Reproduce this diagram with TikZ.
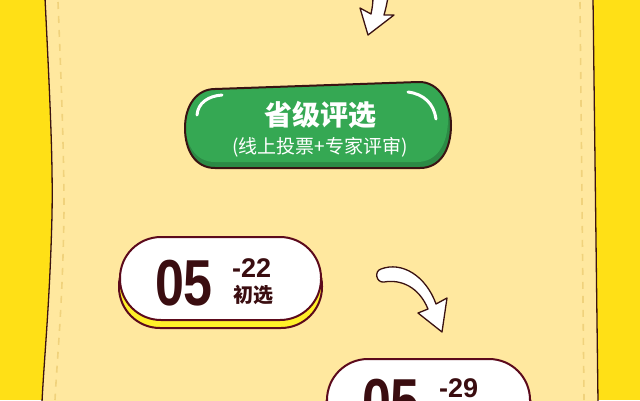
\documentclass[tikz,border=0pt]{standalone}
\usepackage{fontspec}
\usepackage{graphicx}
\setmainfont{Liberation Sans}
\newfontfamily\cjk{Noto Sans CJK SC}
\definecolor{bgyellow}{HTML}{FFE016}
\definecolor{paper}{HTML}{FFE89F}
\definecolor{dashcol}{HTML}{F0D27C}
\definecolor{ink}{HTML}{3A1212}
\definecolor{maroon}{HTML}{5C0A1C}
\definecolor{green1}{HTML}{35A853}
\definecolor{green2}{HTML}{2C8A45}
\definecolor{shadowyel}{HTML}{FFF02A}
\definecolor{datetext}{HTML}{3A0D10}
\tikzset{
  edgeline/.style={draw=ink, line width=1.3pt},
  stitch/.style={draw=dashcol, line width=1.6pt, dash pattern=on 7pt off 7pt},
  datebox/.style={fill=white, draw=maroon, line width=2pt, rounded corners=41pt},
  dateshadow/.style={fill=shadowyel, draw=maroon, line width=2pt, rounded corners=41pt},
  bignum/.style={text=datetext, font=\fontsize{65}{65}\selectfont\bfseries, inner sep=0pt, anchor=base},
  smallnum/.style={text=datetext, font=\fontsize{27}{27}\selectfont\bfseries, inner sep=0pt, anchor=base west},
  smalllabel/.style={text=datetext, font=\cjk\fontsize{20}{20}\selectfont\bfseries, inner sep=0pt, anchor=base west},
  arrowshape/.style={fill=white, draw=ink, line width=1.3pt, line join=round},
  highlight/.style={draw=white, line width=3pt, line cap=round}
}
\begin{document}
\begin{tikzpicture}[x=1pt,y=-1pt]
\useasboundingbox (0,0) rectangle (640,400);
\fill[bgyellow] (0,0) rectangle (640,400);
% paper
\fill[paper] (45,-2) .. controls (50,100) and (53,160) .. (52,215) .. controls (50,300) and (44,360) .. (42,402) -- (598,402) -- (593,-2) -- cycle;
\draw[edgeline] (45,-2) .. controls (50,100) and (53,160) .. (52,215) .. controls (50,300) and (44,360) .. (42,402);
\draw[edgeline] (593,-2) -- (598,402);
\draw[stitch] (58,2) .. controls (62,100) and (64,160) .. (64,210) .. controls (63,300) and (57,360) .. (55,400);
\draw[stitch] (580,2) -- (584,400);
% top arrow
\draw[arrowshape] (373,-3) .. controls (373,4) and (372,9) .. (371,14) -- (360,8) -- (368,35) -- (394,15) -- (384,15) .. controls (386,8) and (387,3) .. (388,-3) -- cycle;
% green pill
\fill[green2] (215,89) -- (418,82) .. controls (440,81) and (451,105) .. (451,125) .. controls (451,150) and (440,168) .. (420,168) -- (215,168) .. controls (195,168) and (185,150) .. (185,128) .. controls (185,105) and (197,89) .. (215,89) -- cycle;
\begin{scope}
\clip (215,89) -- (418,82) .. controls (440,81) and (451,105) .. (451,125) .. controls (451,150) and (440,168) .. (420,168) -- (215,168) .. controls (195,168) and (185,150) .. (185,128) .. controls (185,105) and (197,89) .. (215,89) -- cycle;
\fill[green1] (215,83) -- (417,76) .. controls (439,75) and (448,99) .. (448,119) .. controls (448,144) and (437,162) .. (417,162) -- (215,162) .. controls (195,162) and (185,144) .. (185,122) .. controls (185,99) and (197,83) .. (215,83) -- cycle;
\end{scope}
\draw[draw=ink, line width=2pt, line join=round] (215,89) -- (418,82) .. controls (440,81) and (451,105) .. (451,125) .. controls (451,150) and (440,168) .. (420,168) -- (215,168) .. controls (195,168) and (185,150) .. (185,128) .. controls (185,105) and (197,89) .. (215,89) -- cycle;
\draw[highlight] (197,115) .. controls (198,103) and (208,96) .. (222,95);
\draw[highlight] (408,92) .. controls (424,94) and (434,104) .. (436,119);
\node[text=white, font=\cjk\fontsize{28}{28}\selectfont\bfseries, inner sep=0pt, anchor=base] (title) at (320,125) {省级评选};
\node[text=white, font=\cjk\fontsize{19}{19}\selectfont, inner sep=0pt, anchor=base] (subtitle) at (320,153) {(线上投票+专家评审)};
% date box 1
\draw[dateshadow] (119,245) rectangle (322,328);
\draw[datebox] (120,237) rectangle (321,320);
\node[bignum] (d1big) at (184,305) {\scalebox{0.8}[1]{05}};
\node[smallnum] (d1small) at (232,277) {-22};
\node[smalllabel] (d1label) at (233,302) {初选};
% curved arrow
\draw[arrowshape] (381,269) .. controls (402,261) and (426,276) .. (436,304) -- (447,298) -- (442,332) -- (418,313) -- (428,309) .. controls (419,287) and (401,279) .. (384,282) .. controls (376,283) and (374,271) .. (381,269) -- cycle;
% date box 2
\draw[dateshadow] (326,367) rectangle (531,450);
\draw[datebox] (327,359) rectangle (530,442);
\node[bignum] (d2big) at (391,424) {\scalebox{0.8}[1]{05}};
\node[smallnum] (d2small) at (439,397) {-29};
\end{tikzpicture}
\end{document}
